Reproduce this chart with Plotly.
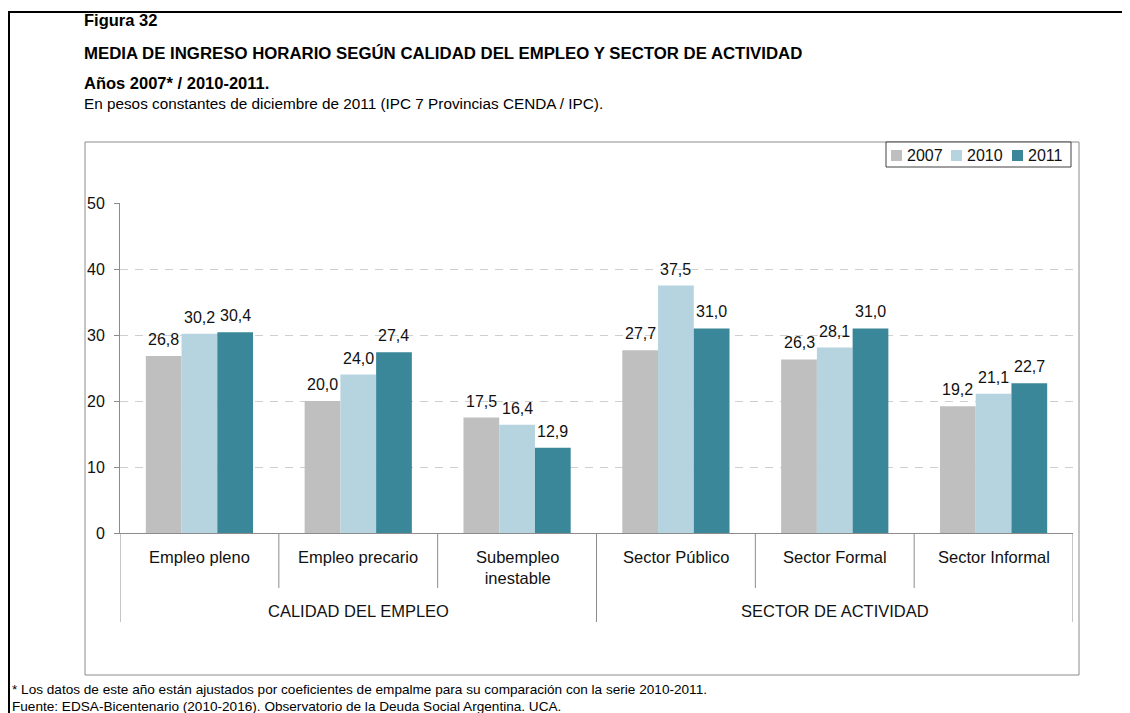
import plotly.graph_objects as go

# data
categorias = ["Empleo pleno", "Empleo precario", "Subempleo<br>inestable",
              "Sector Público", "Sector Formal", "Sector Informal"]
grupos = ["CALIDAD DEL EMPLEO", "SECTOR DE ACTIVIDAD"]
anios = ["2007", "2010", "2011"]
v2007 = [26.8, 20.0, 17.5, 27.7, 26.3, 19.2]
v2010 = [30.2, 24.0, 16.4, 37.5, 28.1, 21.1]
v2011 = [30.4, 27.4, 12.9, 31.0, 31.0, 22.7]
y_ticks = [0, 10, 20, 30, 40, 50]

colores = ["#BFBFBF", "#B6D4DF", "#3A8799"]
FONT = "Liberation Sans, Arial, sans-serif"

# the page body has an 8px margin, so the figure is made 8px smaller
PAGE_W, PAGE_H, BODY = 1130, 713, 8
L, R, T, B = 120, 1073, 203, 533  # plot area, page pixels


def px(x):
    return (x - L) / (R - L)


def py(y):
    return (B - y) / (B - T)


series = [v2007, v2010, v2011]
xs = list(range(len(categorias)))
bargap = 0.325
bw = (1 - bargap) / len(series)

fig = go.Figure()
for name, vals, col in zip(anios, series, colores):
    fig.add_trace(go.Bar(x=xs, y=vals, name=name, marker_color=col,
                         marker_line_width=0, showlegend=False))

annotations = []
# value labels above each bar
for j, vals in enumerate(series):
    off = (j - 1) * bw
    for i, v in enumerate(vals):
        annotations.append(dict(x=i + off, y=v, xref="x", yref="y",
                                text=f"{v:.1f}".replace(".", ","),
                                showarrow=False, yanchor="bottom", yshift=6,
                                font=dict(size=16, color="#111", family=FONT)))

# category labels
for i, c in enumerate(categorias):
    yc = 567 if "<br>" in c else 557
    annotations.append(dict(x=i, y=py(yc), xref="x", yref="paper", text=c,
                            showarrow=False, yanchor="middle",
                            font=dict(size=16.5, color="#111", family=FONT)))
# group labels
for g, xc in zip(grupos, [1, 4]):
    annotations.append(dict(x=xc, y=py(611), xref="x", yref="paper", text=g,
                            showarrow=False, yanchor="middle",
                            font=dict(size=16.5, color="#111", family=FONT)))

# titles
titulos = [("<b>Figura 32</b>", 20, 16.5),
           ("<b>MEDIA DE INGRESO HORARIO SEGÚN CALIDAD DEL EMPLEO Y SECTOR DE ACTIVIDAD</b>", 53, 16.8),
           ("<b>Años 2007* / 2010-2011.</b>", 83, 16.5),
           ("En pesos constantes de diciembre de 2011 (IPC 7 Provincias CENDA / IPC).", 104, 15.3)]
for t, y, s in titulos:
    annotations.append(dict(x=px(82), y=py(y), xref="paper", yref="paper", text=t,
                            showarrow=False, xanchor="left", yanchor="middle",
                            font=dict(size=s, color="#000", family=FONT)))

notas = [("* Los datos de este año están ajustados por coeficientes de empalme para su comparación con la serie 2010-2011.", 689),
         ("Fuente: EDSA-Bicentenario (2010-2016). Observatorio de la Deuda Social Argentina. UCA.", 706)]
for t, y in notas:
    annotations.append(dict(x=px(10), y=py(y), xref="paper", yref="paper", text=t,
                            showarrow=False, xanchor="left", yanchor="middle",
                            font=dict(size=13.6, color="#000", family=FONT)))

# legend (manual, Excel style)
leg_x = [891, 951, 1012]
for name, col, lx in zip(anios, colores, leg_x):
    annotations.append(dict(x=px(lx + 14), y=py(155), xref="paper", yref="paper",
                            text=name, showarrow=False, xanchor="left", yanchor="middle",
                            font=dict(size=16, color="#111", family=FONT)))

shapes = []
# outer figure frame
shapes.append(dict(type="rect", xref="paper", yref="paper", x0=px(9), x1=px(1140),
                   y0=py(12), y1=py(730), line=dict(color="#000", width=2)))
# chart frame
shapes.append(dict(type="rect", xref="paper", yref="paper", x0=px(85), x1=px(1079),
                   y0=py(142), y1=py(675), line=dict(color="#8C8C8C", width=1)))
# legend box and keys
shapes.append(dict(type="rect", xref="paper", yref="paper", x0=px(886), x1=px(1071),
                   y0=py(142), y1=py(167), line=dict(color="#404040", width=1),
                   fillcolor="white"))
for col, lx in zip(colores, leg_x):
    shapes.append(dict(type="rect", xref="paper", yref="paper", x0=px(lx), x1=px(lx + 11),
                       y0=py(150), y1=py(161), line=dict(width=0), fillcolor=col))
# category separators
for k in range(len(categorias) + 1):
    xb = k - 0.5
    bottom = 622 if k in (0, 3, 6) else 588
    shapes.append(dict(type="line", xref="x", yref="paper", x0=xb, x1=xb,
                       y0=0, y1=py(bottom), line=dict(color="#8C8C8C", width=1)))

fig.update_layout(
    width=PAGE_W - BODY, height=PAGE_H - BODY,
    margin=dict(l=L - BODY, r=PAGE_W - R, t=T - BODY, b=PAGE_H - B),
    paper_bgcolor="white", plot_bgcolor="white",
    barmode="group", bargap=bargap, bargroupgap=0,
    annotations=annotations, shapes=shapes,
    font=dict(family=FONT, color="#111"),
    xaxis=dict(range=[-0.5, len(categorias) - 0.5], showticklabels=False,
               showgrid=False, zeroline=False, showline=True,
               linecolor="#8C8C8C", linewidth=1, ticks=""),
    yaxis=dict(range=[0, 50], tickvals=y_ticks, showgrid=True,
               gridcolor="#CFCFCF", griddash="8px,7px", gridwidth=1,
               zeroline=False, showline=True, linecolor="#8C8C8C", linewidth=1,
               ticks="outside", ticklen=5, tickcolor="#8C8C8C",
               ticklabelstandoff=6,
               tickfont=dict(size=16, color="#111", family=FONT)),
)

fig.write_html("out.html")
